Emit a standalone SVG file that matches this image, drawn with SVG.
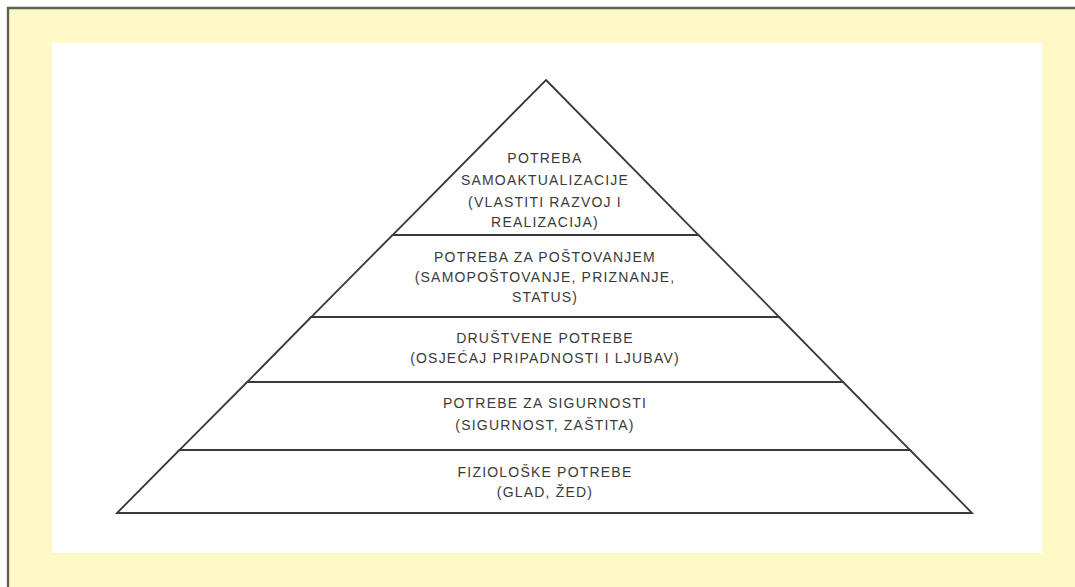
<svg xmlns="http://www.w3.org/2000/svg" width="1075" height="587" viewBox="0 0 1075 587">
  <style>
    .tier { fill: #ffffff; stroke: #3a3a3a; stroke-width: 1.8; stroke-linejoin: miter; }
    .lbl { font-family: "Liberation Sans", Arial, sans-serif; font-size: 14px; fill: #3a3a3a; text-anchor: middle; letter-spacing: 1.2px; }
  </style>
  <rect x="0" y="0" width="1075" height="587" fill="#ffffff"/>
  <rect x="8" y="8" width="1067" height="579" fill="#fff9c8"/>
  <path d="M8 587 V8 H1075" fill="none" stroke="#5f5f52" stroke-width="2.4"/>
  <rect x="52" y="43" width="990" height="510" fill="#ffffff"/>

  <g id="tier5">
    <polygon class="tier" points="179.4,450 910,450 972,513 117,513"/>
    <text class="lbl" x="545" y="477">FIZIOLOŠKE POTREBE</text>
    <text class="lbl" x="545" y="497">(GLAD, ŽED)</text>
  </g>
  <g id="tier4">
    <polygon class="tier" points="247.2,382 843.1,382 910,450 179.4,450"/>
    <text class="lbl" x="545" y="408">POTREBE ZA SIGURNOSTI</text>
    <text class="lbl" x="545" y="430">(SIGURNOST, ZAŠTITA)</text>
  </g>
  <g id="tier3">
    <polygon class="tier" points="311.2,317 779.2,317 843.1,382 247.2,382"/>
    <text class="lbl" x="545" y="343">DRUŠTVENE POTREBE</text>
    <text class="lbl" x="545" y="363">(OSJEĆAJ PRIPADNOSTI I LJUBAV)</text>
  </g>
  <g id="tier2">
    <polygon class="tier" points="392.6,235 698.5,235 779.2,317 311.2,317"/>
    <text class="lbl" x="545" y="262">POTREBA ZA POŠTOVANJEM</text>
    <text class="lbl" x="545" y="282">(SAMOPOŠTOVANJE, PRIZNANJE,</text>
    <text class="lbl" x="545" y="302">STATUS)</text>
  </g>
  <g id="tier1">
    <polygon class="tier" points="546,80 698.5,235 392.6,235"/>
    <text class="lbl" x="545" y="163">POTREBA</text>
    <text class="lbl" x="545" y="185">SAMOAKTUALIZACIJE</text>
    <text class="lbl" x="545" y="207">(VLASTITI RAZVOJ I</text>
    <text class="lbl" x="545" y="227">REALIZACIJA)</text>
  </g>
</svg>
